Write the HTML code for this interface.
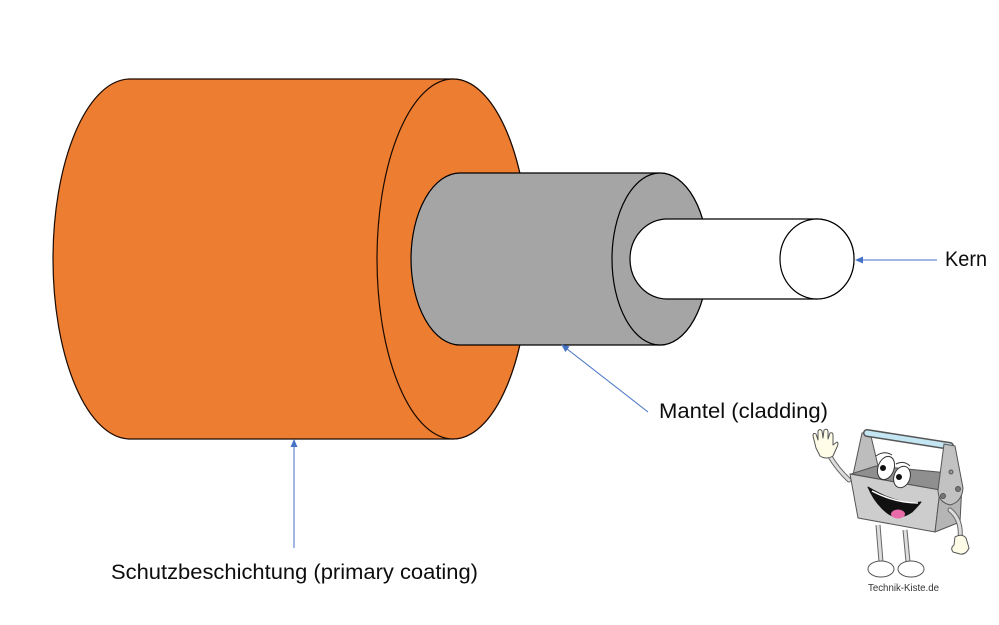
<!DOCTYPE html>
<html><head><meta charset="utf-8"><style>
html,body{margin:0;padding:0;background:#fff;}
svg{display:block;}
text{font-family:"Liberation Sans",sans-serif;fill:#0d0d0d;}
</style></head><body>
<svg width="999" height="625" viewBox="0 0 999 625" xmlns="http://www.w3.org/2000/svg">
<defs>
<marker id="ah" markerWidth="8" markerHeight="8" refX="7" refY="4" orient="auto" markerUnits="userSpaceOnUse">
<path d="M0,0.5 L8,4 L0,7.5 Z" fill="#4472C4"/>
</marker>
</defs>
<rect width="999" height="625" fill="#fff"/>
<!-- orange cylinder -->
<path d="M130,79 L453,79 A76,180 0 0 1 453,439 L130,439 A77,180 0 0 1 130,79 Z" fill="#ED7D31" stroke="#1a0a00" stroke-width="1.2"/>
<ellipse cx="453" cy="259" rx="76" ry="180" fill="#ED7D31" stroke="#1a0a00" stroke-width="1.2"/>
<!-- grey cylinder -->
<path d="M460,173 L660,173 A48,86 0 0 1 660,345 L460,345 A49,86 0 0 1 460,173 Z" fill="#A5A5A5" stroke="#000" stroke-width="1.2"/>
<ellipse cx="660" cy="259" rx="48" ry="86" fill="#A5A5A5" stroke="#000" stroke-width="1.2"/>
<!-- core -->
<path d="M667,219 L817,219 A37,40 0 0 1 817,299 L667,299 A37,40 0 0 1 667,219 Z" fill="#fff" stroke="#000" stroke-width="1.2"/>
<ellipse cx="817" cy="259" rx="37" ry="40" fill="#fff" stroke="#000" stroke-width="1.2"/>
<!-- arrows -->
<line x1="937" y1="260" x2="856" y2="260" stroke="#4472C4" stroke-width="1" marker-end="url(#ah)"/>
<line x1="648" y1="412" x2="562" y2="345" stroke="#4472C4" stroke-width="1" marker-end="url(#ah)"/>
<line x1="294" y1="548" x2="294" y2="440" stroke="#4472C4" stroke-width="1" marker-end="url(#ah)"/>
<!-- labels -->
<text x="945" y="266" font-size="21" textLength="42" lengthAdjust="spacingAndGlyphs">Kern</text>
<text x="659" y="418" font-size="21" textLength="169" lengthAdjust="spacingAndGlyphs">Mantel (cladding)</text>
<text x="111" y="579" font-size="21" textLength="367" lengthAdjust="spacingAndGlyphs">Schutzbeschichtung (primary coating)</text>
<!-- mascot -->
<g stroke="#555" stroke-width="1" stroke-linejoin="round">
<!-- left arm -->
<path d="M849,480 Q838,470 829,455" fill="none" stroke="#666" stroke-width="5" stroke-linecap="round"/>
<path d="M849,480 Q838,470 829,455" fill="none" stroke="#ddd" stroke-width="3" stroke-linecap="round"/>
<!-- left hand -->
<path d="M816,448 L813,436 Q813,432 816,434 L818,440 L818,431 Q820,428 822,431 L823,438 L824,430 Q827,428 828,431 L828,439 L830,433 Q833,432 833,435 L833,445 L837,442 Q839,443 837,447 L833,456 Q826,460 820,456 Z" fill="#FFFDE8"/>
<!-- back upright -->
<polygon points="862,433 870,432 879,470 853,475" fill="#BDBDBD"/>
<!-- interior -->
<polygon points="851,474 876,466 959,474 962,484 940,490" fill="#8f8f8f"/>
<!-- handle -->
<line x1="867" y1="433" x2="950" y2="446" stroke="#555" stroke-width="8" stroke-linecap="round"/>
<line x1="867" y1="433" x2="950" y2="446" stroke="#C3E6F2" stroke-width="5" stroke-linecap="round"/>
<!-- legs -->
<line x1="878" y1="525" x2="881" y2="562" stroke="#666" stroke-width="5"/>
<line x1="878" y1="525" x2="881" y2="562" stroke="#ddd" stroke-width="3"/>
<line x1="905" y1="530" x2="908" y2="562" stroke="#666" stroke-width="5"/>
<line x1="905" y1="530" x2="908" y2="562" stroke="#ddd" stroke-width="3"/>
<!-- box front -->
<polygon points="850,474 940,490 935,532 858,518" fill="#CDCDCD"/>
<!-- box side -->
<polygon points="940,490 962,484 960,522 935,532" fill="#B5B5B5"/>
<!-- front upright -->
<path d="M944,444 L955,446 L963,488 Q962,502 950,505 Q938,502 938,490 Z" fill="#C2C2C2"/>
<circle cx="943" cy="496" r="2.5" fill="#777"/>
<circle cx="958" cy="489" r="2.5" fill="#777"/>
<circle cx="951" cy="472" r="2" fill="#999"/>
<!-- right arm -->
<path d="M950,510 Q962,520 960,538" fill="none" stroke="#666" stroke-width="5" stroke-linecap="round"/>
<path d="M950,510 Q962,520 960,538" fill="none" stroke="#ddd" stroke-width="3" stroke-linecap="round"/>
<!-- right hand -->
<path d="M955,537 Q962,533 966,538 L969,548 Q966,555 960,554 L953,552 Q950,548 954,545 Z" fill="#FFFDE8"/>
<!-- shoes -->
<ellipse cx="881" cy="569" rx="13" ry="8" fill="#fff"/>
<ellipse cx="911" cy="569" rx="13" ry="8" fill="#fff"/>
<!-- eyes -->
<ellipse cx="886" cy="468" rx="8" ry="12" transform="rotate(20 886 468)" fill="#fff" stroke="#333"/>
<ellipse cx="902" cy="477" rx="8" ry="11" transform="rotate(20 902 477)" fill="#fff" stroke="#333"/>
<circle cx="883" cy="468" r="3" fill="#111" stroke="none"/>
<circle cx="899" cy="477" r="3" fill="#111" stroke="none"/>
<path d="M876,456 Q884,450 892,455" fill="none" stroke="#333"/>
<path d="M896,464 Q904,460 910,466" fill="none" stroke="#333"/>
<!-- mouth -->
<path d="M868,487 Q874,502 886,512 Q898,522 912,512 Q919,505 921,502 Q900,506 868,487 Z" fill="#111" stroke="#111"/>
<path d="M872,491 Q895,503 918,503" fill="none" stroke="#fff" stroke-width="1.5"/>
<ellipse cx="898" cy="514" rx="7" ry="4.5" fill="#E86AA8" stroke="none"/>
</g>
<text x="868" y="591" font-size="10.5" textLength="71" lengthAdjust="spacingAndGlyphs" style="fill:#333">Technik-Kiste.de</text>
</svg>
</body></html>
